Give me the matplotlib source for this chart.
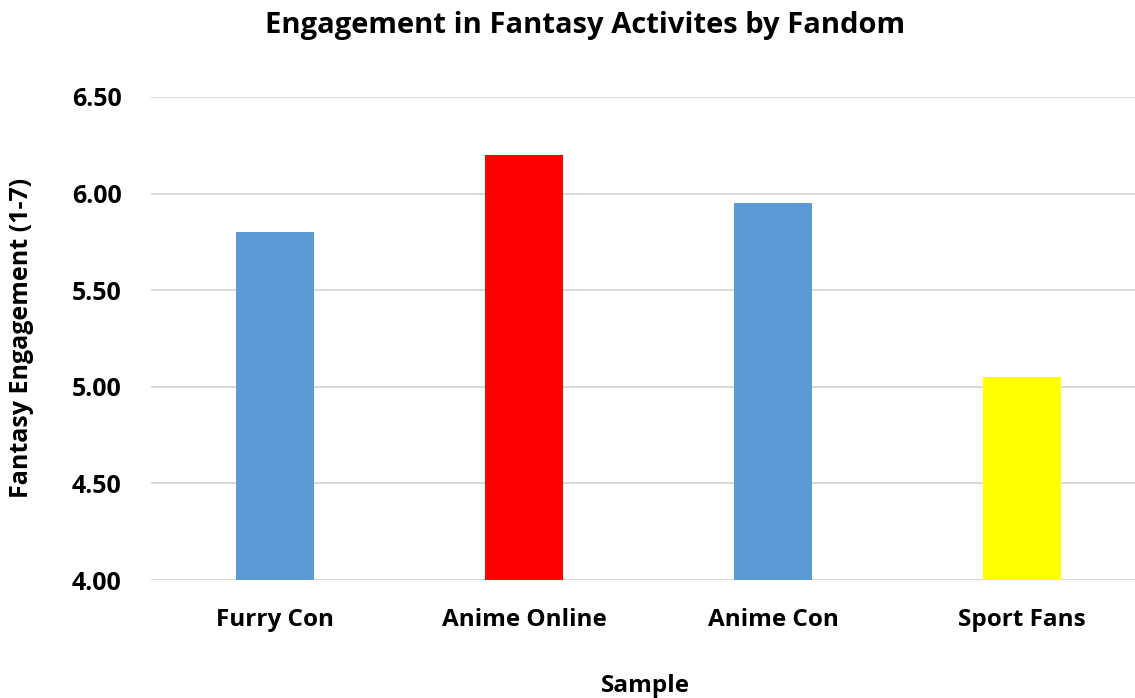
import matplotlib
matplotlib.use("Agg")
import matplotlib.pyplot as plt

categories = ["Furry Con", "Anime Online", "Anime Con", "Sport Fans"]
values = [5.80, 6.20, 5.95, 5.05]
colors = ["#5B9BD5", "#FF0000", "#5B9BD5", "#FFFF00"]
yticks = [4.00, 4.50, 5.00, 5.50, 6.00, 6.50]

plt.rcParams['font.family'] = ['Open Sans', 'DejaVu Sans']
plt.rcParams['font.weight'] = 'bold'

fig = plt.figure(figsize=(11.35, 6.98), dpi=100)
ax = fig.add_axes([151/1135, 1-580/698, 1-151/1135, (580-97)/698])

x = list(range(len(categories)))
ax.bar(x, values, width=0.313, color=colors, bottom=0, zorder=3)
ax.set_ylim(4.0, 6.5)
ax.set_xlim(-0.5, 3.454)
ax.set_yticks(yticks)
ax.set_yticklabels([f"{v:.2f}" for v in yticks], fontsize=18, fontweight='bold')
ax.set_xticks(x)
ax.set_xticklabels(categories, fontsize=17.5, fontweight='bold')
ax.tick_params(axis='y', length=0, pad=21)
ax.tick_params(axis='x', length=0, pad=20)
ax.grid(axis='y', color='#D9D9D9', linewidth=1.5, zorder=0)
for s in ax.spines.values():
    s.set_visible(False)
ax.set_axisbelow(True)

fig.text(585/1135, 1-26/698, "Engagement in Fantasy Activites by Fandom",
         ha='center', va='center', fontsize=21, fontweight='bold')
fig.text(645/1135, 1-686/698, "Sample", ha='center', va='center', fontsize=17.5, fontweight='bold')
fig.text(22/1135, 1-338/698, "Fantasy Engagement (1-7)", ha='center', va='center',
         rotation=90, fontsize=18, fontweight='bold')

fig.savefig("out.png", dpi=100)
